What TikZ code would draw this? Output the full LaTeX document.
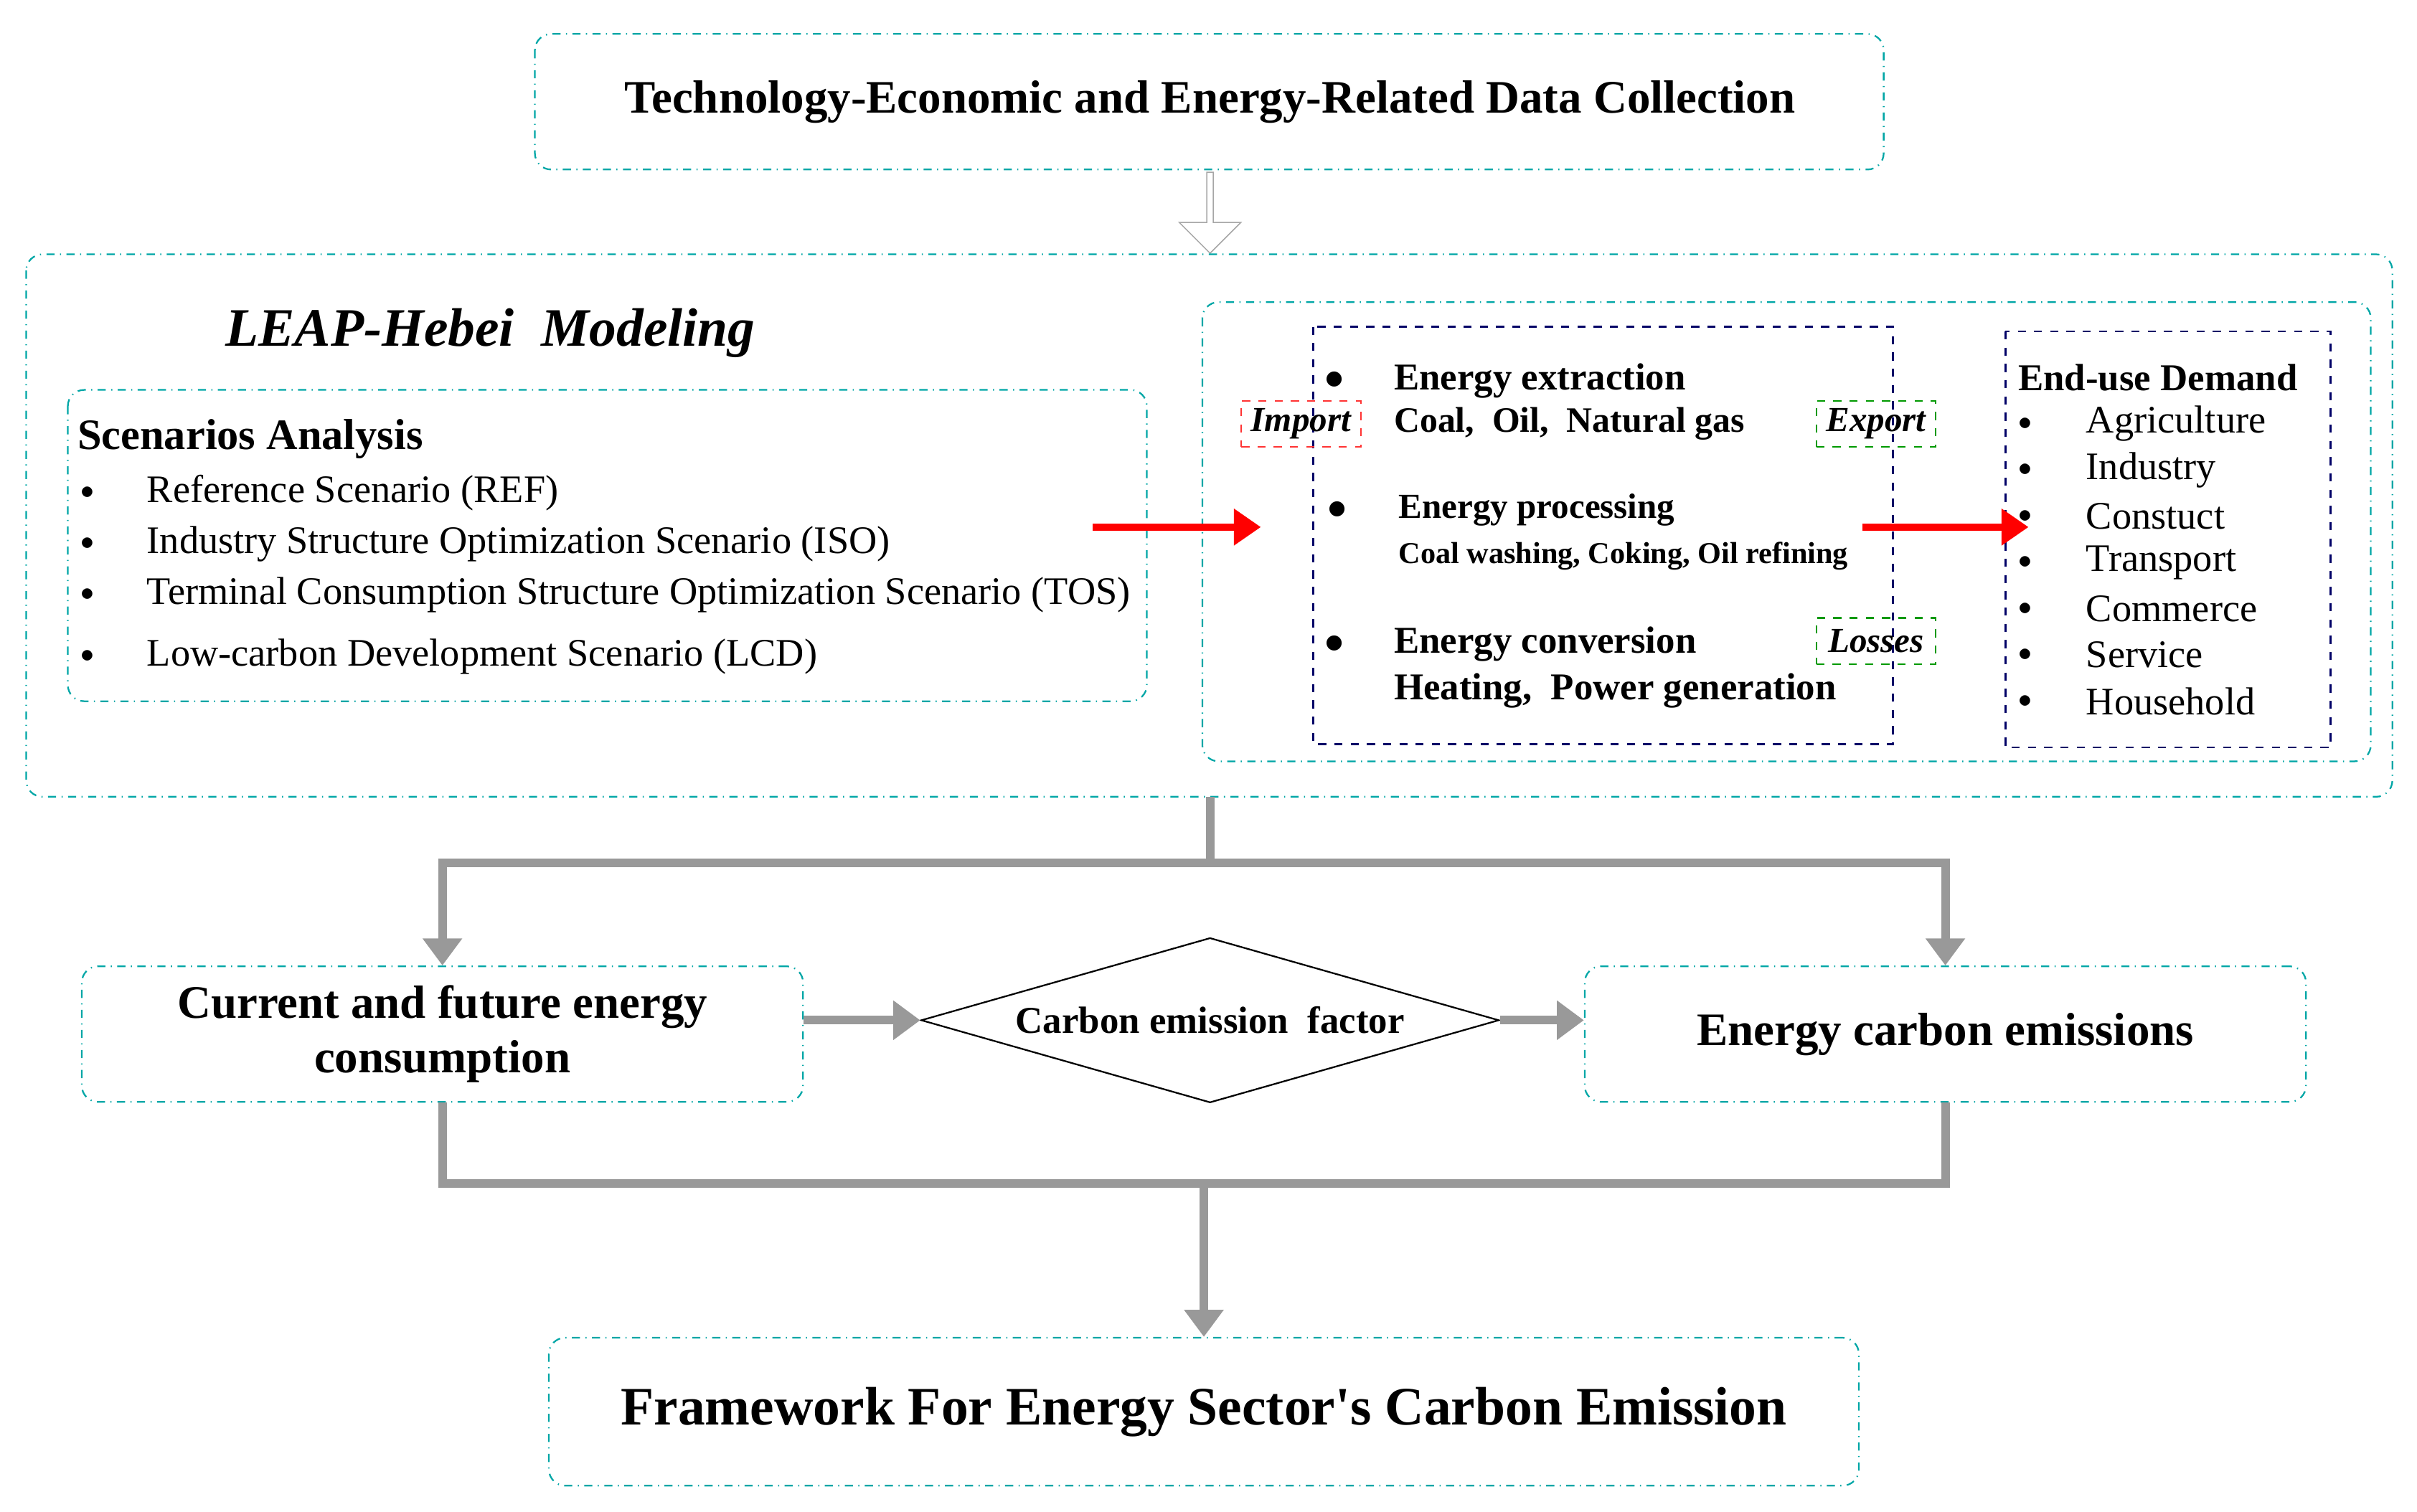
\documentclass[tikz,border=0pt]{standalone}
\usepackage{fontspec}
\setmainfont{Liberation Serif}
\usetikzlibrary{shapes.geometric,shapes.arrows,arrows.meta,positioning}
\tikzset{
  tealbox/.style={draw=teal!70!cyan, dash dot, rounded corners=6pt, line width=0.6pt},
  navybox/.style={draw=blue!40!black, dashed, line width=0.7pt},
  tagbox/.style={dashed, line width=0.6pt, font=\fontsize{13}{15}\selectfont\bfseries\itshape, inner sep=2pt, minimum width=1.55cm, minimum height=0.6cm},
  txt/.style={anchor=west, inner sep=0pt},
  grayline/.style={draw=gray!80, line width=3.2pt},
  grayarrow/.style={grayline, -{Triangle[length=10pt,width=14pt]}},
  redarrow/.style={draw=red, line width=2.5pt, -{Triangle[length=10pt,width=13pt]}},
}
\begin{document}
\begin{tikzpicture}[x=0.02cm, y=-0.02cm]
\useasboundingbox (0,0) rectangle (1568,981);
% top
\draw[tealbox] (347,22) rectangle (1222,110);
\node[font=\fontsize{17.2}{19}\selectfont\bfseries] (collect) at (785,66) {Technology-Economic and Energy-Related Data Collection};
\node[single arrow, draw=gray!70, fill=white, shape border rotate=270, minimum width=0.8cm, single arrow head extend=0.06cm, minimum height=1.05cm, inner sep=0pt] (hollow) at (785,137) {};
% modeling frame
\draw[tealbox] (17,165) rectangle (1552,517);
\node[font=\fontsize{20}{22}\selectfont\bfseries\itshape] (leap) at (318,216) {LEAP-Hebei\ \ Modeling};
\draw[tealbox] (44,253) rectangle (744,455);
\node[txt, font=\fontsize{16}{18}\selectfont\bfseries] (scen) at (50,285) {Scenarios Analysis};
\foreach \y/\t in {320/Reference Scenario (REF), 353/Industry Structure Optimization Scenario (ISO), 386/Terminal Consumption Structure Optimization Scenario (TOS), 426/Low-carbon Development Scenario (LCD)}{
  \node[txt] at (52,\y) {$\bullet$};
  \node[txt, font=\fontsize{14.4}{16}\selectfont] at (95,\y) {\t};
}
\draw[tealbox] (780,196) rectangle (1538,494);
\draw[navybox] (852,212) rectangle (1228,483);
\draw[navybox] (1301,215) rectangle (1512,485);
\begin{scope}[font=\fontsize{14}{16}\selectfont\bfseries]
\node[txt] at (859,247) {$\bullet$};
\node[txt] (extr) at (904,247) {Energy extraction};
\node[txt, font=\fontsize{13.2}{15}\selectfont\bfseries] at (904,275) {Coal,\ \ Oil,\ \ Natural gas};
\node[txt] at (861,331) {$\bullet$};
\node[txt, font=\fontsize{13}{15}\selectfont\bfseries] (proc) at (907,331) {Energy processing};
\node[txt, font=\fontsize{11.2}{13}\selectfont\bfseries] at (907,361) {Coal washing, Coking, Oil refining};
\node[txt] at (859,418) {$\bullet$};
\node[txt] (conv) at (904,418) {Energy conversion};
\node[txt] at (904,448) {Heating,\ \ Power generation};
\node[txt] (enduse) at (1309,245) {End-use Demand};
\end{scope}
\foreach \y/\t in {275/Agriculture, 305/Industry, 335/Constuct, 365/Transport, 395/Commerce, 425/Service, 455/Household}{
  \node[txt] at (1309,\y) {$\bullet$};
  \node[txt, font=\fontsize{14.4}{16}\selectfont] at (1353,\y) {\t};
}
\node[tagbox, draw=red!80] (import) at (844,275) {Import};
\node[tagbox, draw=green!60!black] (export) at (1217,275) {Export};
\node[tagbox, draw=green!60!black] (losses) at (1217,416) {Losses};
\coordinate (r1s) at (709,342); \coordinate (r1e) at (818,342);
\coordinate (r2s) at (1208,342); \coordinate (r2e) at (1316,342);
\draw[redarrow] (r1s) -- (r1e);
\draw[redarrow] (r2s) -- (r2e);
% lower part
\node[draw=teal!70!cyan, dash dot, rounded corners=6pt, line width=0.6pt, minimum width=9.36cm, minimum height=1.76cm, align=center, font=\fontsize{17.2}{20}\selectfont\bfseries] (cur) at (287,671) {Current and future energy\\consumption};
\node[diamond, draw, line width=0.6pt, minimum width=7.5cm, minimum height=2.14cm, aspect=3.5, inner sep=0pt, font=\fontsize{14}{16}\selectfont\bfseries] (factor) at (785,662) {Carbon emission\ \ factor};
\node[draw=teal!70!cyan, dash dot, rounded corners=6pt, line width=0.6pt, minimum width=9.36cm, minimum height=1.76cm, font=\fontsize{17.2}{20}\selectfont\bfseries] (emis) at (1262,671) {Energy carbon emissions};
\node[draw=teal!70!cyan, dash dot, rounded corners=6pt, line width=0.6pt, minimum width=17cm, minimum height=1.92cm, font=\fontsize{20}{23}\selectfont\bfseries] (frame) at (781,916) {Framework For Energy Sector\textquotesingle s Carbon Emission};
\coordinate (split) at (785,517);
\coordinate (mid) at (785,560);
\coordinate (join) at (781,768);
\draw[grayline] (split) -- (mid);
\draw[grayarrow] (mid) -| (cur.north);
\draw[grayarrow] (mid) -| (emis.north);
\draw[grayarrow] (cur.east |- factor) -- (factor.west);
\draw[grayarrow] (factor.east) -- (emis.west |- factor);
\draw[grayline] (cur.south) |- (join) -| (emis.south);
\draw[grayarrow] (join) -- (frame.north);
\end{tikzpicture}
\end{document}
